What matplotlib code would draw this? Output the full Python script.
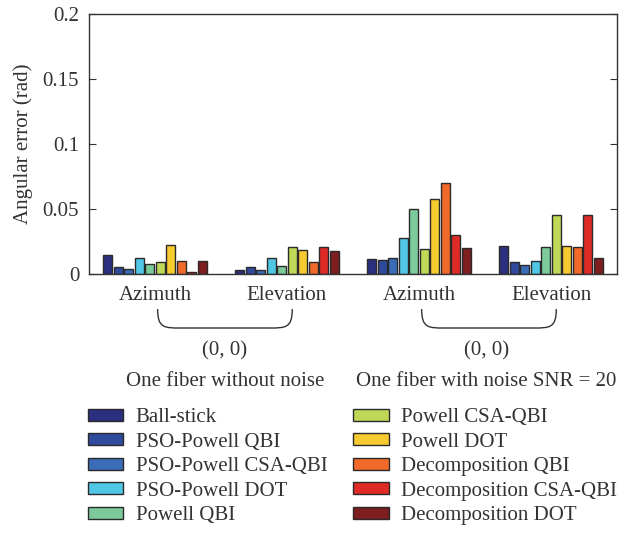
import numpy as np
import matplotlib
matplotlib.use("Agg")
import matplotlib.pyplot as plt
from matplotlib.patches import Patch, PathPatch
from matplotlib.path import Path
from matplotlib.transforms import blended_transform_factory

# 資料
tick_labels = ["Azimuth", "Elevation", "Azimuth", "Elevation"]
methods = [
    "Ball-stick", "PSO-Powell QBI", "PSO-Powell CSA-QBI", "PSO-Powell DOT",
    "Powell QBI", "Powell CSA-QBI", "Powell DOT", "Decomposition QBI",
    "Decomposition CSA-QBI", "Decomposition DOT",
]
colors = [
    "#2b2f80", "#2f4a9c", "#3b6cb8", "#4fc7e5", "#7dcb9b",
    "#c0d857", "#f6cb2f", "#f26a2a", "#e02a26", "#7e1e1f",
]
# 每個方法在四組 (無雜訊 Az, El, 有雜訊 Az, El) 的角度誤差
ball_stick = [0.0144, 0.0028, 0.0113, 0.0213]
pso_qbi = [0.0056, 0.0051, 0.0108, 0.0090]
pso_csa = [0.0036, 0.0030, 0.0123, 0.0072]
pso_dot = [0.0125, 0.0125, 0.0280, 0.0100]
powell_qbi = [0.0077, 0.0060, 0.0497, 0.0210]
powell_csa = [0.0090, 0.0210, 0.0192, 0.0454]
powell_dot = [0.0225, 0.0185, 0.0580, 0.0218]
decomp_qbi = [0.0102, 0.0092, 0.0697, 0.0210]
decomp_csa = [0.0018, 0.0208, 0.0302, 0.0454]
decomp_dot = [0.0097, 0.0177, 0.0200, 0.0120]
values = [ball_stick, pso_qbi, pso_csa, pso_dot, powell_qbi,
          powell_csa, powell_dot, decomp_qbi, decomp_csa, decomp_dot]
group_titles = ["(0, 0)", "(0, 0)"]
case_titles = ["One fiber without noise", "One fiber with noise SNR = 20"]


def draw_bracket(ax, fig, x0, x1, y_top, y_bot, r):
    """畫出底下的大括號 (x 為資料座標, y 為圖座標)"""
    trans = blended_transform_factory(ax.transData, fig.transFigure)
    verts = [
        (x0, y_top), (x0, y_bot), (x0 + r * 0.3, y_bot), (x0 + r, y_bot),
        (x1 - r, y_bot),
        (x1 - r * 0.3, y_bot), (x1, y_bot), (x1, y_top),
    ]
    codes = [Path.MOVETO, Path.CURVE4, Path.CURVE4, Path.CURVE4,
             Path.LINETO, Path.CURVE4, Path.CURVE4, Path.CURVE4]
    patch = PathPatch(Path(verts, codes), transform=trans, fill=False,
                      edgecolor="#333333", lw=1.0, clip_on=False)
    fig.add_artist(patch)


def plot_bars(filename="out.png"):
    plt.rcParams["font.family"] = ["Liberation Serif", "DejaVu Serif"]
    plt.rcParams["font.size"] = 15
    text_color = "#333333"

    fig = plt.figure(figsize=(6.2, 5.35), dpi=100)
    ax = fig.add_axes([0.1435, 0.4879, 0.8517, 0.4859])

    x = np.arange(1, len(tick_labels) + 1)
    pitch = 0.0795
    width = 0.066
    n = len(methods)
    for i, (name, vals, c) in enumerate(zip(methods, values, colors)):
        ax.bar(x + (i - (n - 1) / 2) * pitch, vals, width, color=c,
               edgecolor="#2a2a2a", linewidth=1.0, label=name)

    ax.set_xlim(0.5, 4.5)
    ax.set_ylim(0, 0.2)
    ax.set_yticks([0, 0.05, 0.1, 0.15, 0.2])
    ax.set_yticklabels(["0", "0.05", "0.1", "0.15", "0.2"])
    ax.set_xticks(x)
    ax.set_xticklabels(tick_labels)
    ax.tick_params(axis="x", length=0, pad=9, colors=text_color)
    ax.tick_params(axis="y", direction="in", length=5, right=True,
                   colors=text_color, pad=7)
    for sp in ax.spines.values():
        sp.set_color("#333333")
        sp.set_linewidth(1.0)
    ax.set_ylabel("Angular error (rad)", color=text_color, labelpad=7)

    # 括號與分組標題
    trans = blended_transform_factory(ax.transData, fig.transFigure)
    for k in range(2):
        left = x[2 * k] + 0.02
        right = x[2 * k + 1] + 0.04
        draw_bracket(ax, fig, left, right, 1 - 309 / 535, 1 - 328 / 535, 0.17)
        mid = (x[2 * k] + x[2 * k + 1]) / 2 + 0.03
        if k == 1:
            mid -= 0.02
        fig.text(mid, 1 - 351 / 535, group_titles[k], transform=trans,
                 ha="center", va="center", color=text_color)
        fig.text(mid, 1 - 382 / 535, case_titles[k], transform=trans,
                 ha="center", va="center", color=text_color)

    handles = [Patch(facecolor=c, edgecolor="#2a2a2a", linewidth=1.0)
               for c in colors]
    fig.legend(handles, methods, ncol=2, frameon=False,
               loc="upper left", bbox_to_anchor=(0.128, 1 - 400 / 535),
               handlelength=1.7, handleheight=0.5, handletextpad=0.6,
               labelspacing=0.26, columnspacing=1.25, borderaxespad=0,
               labelcolor=text_color)

    fig.savefig(filename, dpi=100)
    plt.close(fig)


def main():
    plot_bars("out.png")


if __name__ == "__main__":
    main()
